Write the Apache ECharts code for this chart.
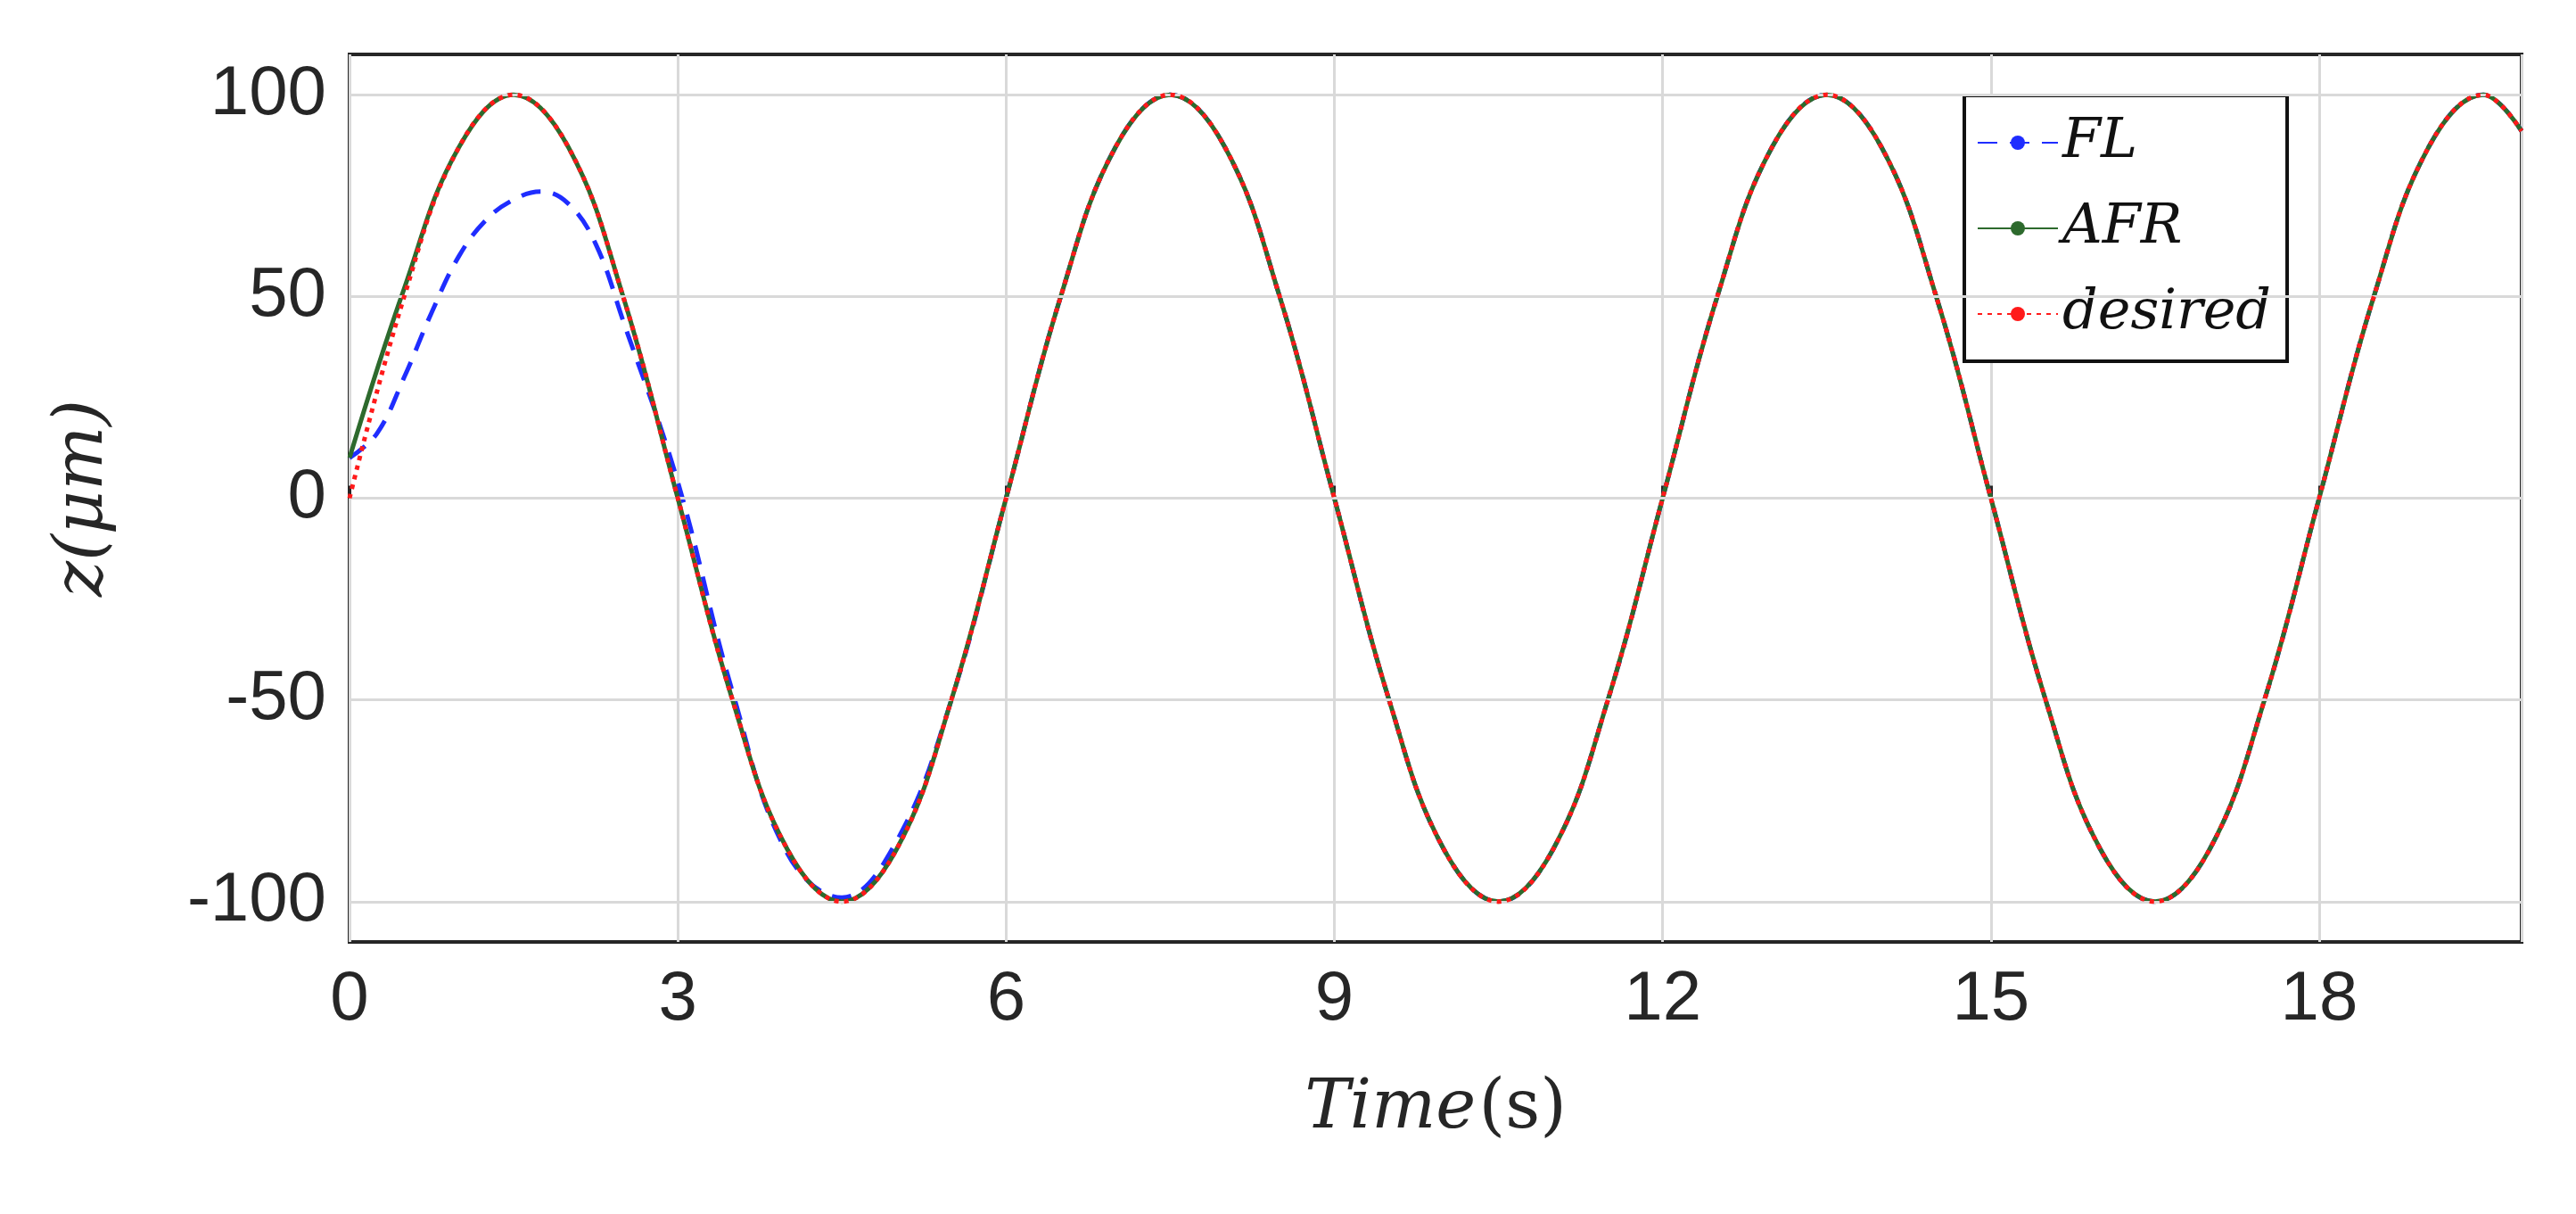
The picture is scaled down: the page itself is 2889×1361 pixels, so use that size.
<!DOCTYPE html>
<html>
<head>
<meta charset="utf-8">
<script src="https://cdn.jsdelivr.net/npm/echarts@6/dist/echarts.min.js"></script>
<style>html,body{margin:0;padding:0;background:#fff}#chart{width:2889px;height:1361px}</style>
</head>
<body>
<div id="chart"></div>
<script>
// time samples (s), 0.5 s apart, plus end of axis
var timeS = [0,0.5,1,1.5,2,2.5,3,3.5,4,4.5,5,5.5,6,6.5,7,7.5,8,8.5,9,9.5,10,10.5,11,11.5,12,12.5,13,13.5,14,14.5,15,15.5,16,16.5,17,17.5,18,18.5,19,19.5,19.85];
// desired trajectory
var desired = [0,50,87,100,87,50,0,-50,-87,-100,-87,-50,0,50,87,100,87,50,0,-50,-87,-100,-87,-50,0,50,87,100,87,50,0,-50,-87,-100,-87,-50,0,50,87,100,91];
// AFR: starts near 10 and joins the desired curve quickly
var afr = [10,52,87,100,87,50,0,-50,-87,-100,-87,-50,0,50,87,100,87,50,0,-50,-87,-100,-87,-50,0,50,87,100,87,50,0,-50,-87,-100,-87,-50,0,50,87,100,91];
// FL: lags during the first cycle (denser samples at the start)
var flTime = [0,0.25,0.5,0.75,1,1.25,1.5,1.75,2,2.25,2.5,3,3.5,4,4.5,5,5.5,6,6.5,7,7.5,8,8.5,9,9.5,10,10.5,11,11.5,12,12.5,13,13.5,14,14.5,15,15.5,16,16.5,17,17.5,18,18.5,19,19.5,19.85];
var fl = [10,16,30,46,60,69,74,76,73,63,44,4,-48,-88,-99,-85,-50,0,50,87,100,87,50,0,-50,-87,-100,-87,-50,0,50,87,100,87,50,0,-50,-87,-100,-87,-50,0,50,87,100,91];
var yGrid = [-100,-50,0,50,100];
var yTicks = ['-100','-50','0','50','100'];

function pairs(t, v){ return t.map(function(x,i){ return [x, v[i]]; }); }

var chart = echarts.init(document.getElementById('chart'));
var font = 'Liberation Sans, Arial, sans-serif';
chart.setOption({
    animation: false,
    grid: {left: 392, right: 61, top: 61, bottom: 305, show: true, borderColor: '#262626', borderWidth: 4},
    legend: {
        orient: 'vertical', left: 2203, top: 107,
        padding: [22, 18, 22, 14], itemGap: 34, itemWidth: 90, itemHeight: 20,
        backgroundColor: '#fff', borderColor: '#111', borderWidth: 4,
        textStyle: {fontFamily: 'DejaVu Serif, serif', fontStyle: 'italic', fontSize: 62, color: '#111'},
        data: ['FL', 'AFR', 'desired']
    },
    xAxis: {
        type: 'value', min: 0, max: 19.85, interval: 3,
        axisLine: {show: false}, axisTick: {show: true, inside: true, length: 14, lineStyle: {color: '#262626', width: 3}},
        axisLabel: {fontFamily: font, fontSize: 78, color: '#262626', margin: 26, showMaxLabel: false},
        splitLine: {show: true, lineStyle: {color: '#d9d9d9', width: 3}},
        name: '{i|Time} {n|(s)}', nameLocation: 'middle', nameGap: 150,
        nameTextStyle: {rich: {
            i: {fontFamily: 'DejaVu Serif, serif', fontStyle: 'italic', fontSize: 76, color: '#262626'},
            n: {fontFamily: 'DejaVu Serif, serif', fontSize: 76, color: '#262626'}}}
    },
    yAxis: {
        type: 'value', min: -110, max: 110, interval: 10,
        axisLine: {show: false}, axisTick: {show: false},
        axisLabel: {fontFamily: font, fontSize: 78, color: '#262626', margin: 26,
            formatter: function(v){ var k = yGrid.indexOf(v); return k < 0 ? '' : yTicks[k]; }},
        splitLine: {show: false},
        name: 'z(μm)', nameLocation: 'middle', nameGap: 260, nameRotate: 90,
        nameTextStyle: {fontFamily: 'DejaVu Serif, serif', fontStyle: 'italic', fontSize: 76, color: '#262626'}
    },
    series: [
        {name: 'grid', type: 'line', data: [], silent: true,
         markLine: {symbol: 'none', silent: true, label: {show: false},
             lineStyle: {color: '#d9d9d9', width: 3, type: 'solid'},
             data: yGrid.map(function(v){ return {yAxis: v}; })}},
        {name: 'FL', type: 'line', smooth: 0.4, symbol: 'none', data: pairs(flTime, fl), z: 3,
         itemStyle: {color: '#1f2dff'}, lineStyle: {color: '#1f2dff', width: 5, type: [22, 14]}},
        {name: 'AFR', type: 'line', smooth: 0.4, symbol: 'none', data: pairs(timeS, afr), z: 4,
         itemStyle: {color: '#2d6a2d'}, lineStyle: {color: '#2d6a2d', width: 5}},
        {name: 'desired', type: 'line', smooth: 0.4, symbol: 'none', data: pairs(timeS, desired), z: 5,
         itemStyle: {color: '#ff1a1a'}, lineStyle: {color: '#ff1a1a', width: 5, type: [5, 6]}}
    ]
});
</script>
</body>
</html>
